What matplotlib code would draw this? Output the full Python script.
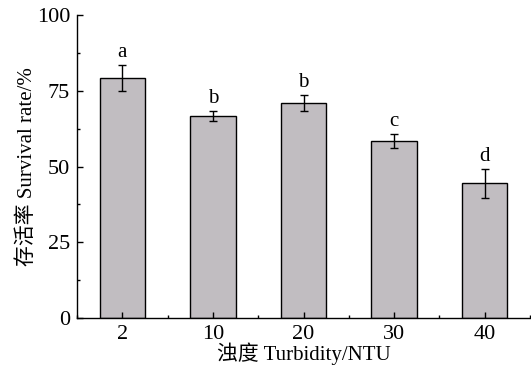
import matplotlib
matplotlib.use("Agg")
import matplotlib.pyplot as plt
from matplotlib.ticker import MultipleLocator

plt.rcParams['font.family'] = ['Liberation Serif', 'Noto Sans CJK SC']
plt.rcParams['mathtext.fontset'] = 'stix'

categories = ['2', '10', '20', '30', '40']
survival = [79.2, 66.6, 70.9, 58.3, 44.4]
errors = [4.2, 1.6, 2.6, 2.3, 4.8]
letters = ['a', 'b', 'b', 'c', 'd']

fig = plt.figure(figsize=(5.31, 3.72), dpi=100)
ax = fig.add_axes([77/531, 1 - 318/372, (530 - 77)/531, (318 - 15)/372])

x = range(len(categories))
ax.bar(x, survival, width=0.5, color='#c1bdc1', edgecolor='black', linewidth=1.0,
       yerr=errors, error_kw=dict(ecolor='black', elinewidth=1.0, capsize=3, capthick=1.0))

for xi, v, e, t in zip(x, survival, errors, letters):
    ax.text(xi, v + e + 1.0, t, ha='center', va='bottom', fontsize=15)

ax.set_xlim(-0.5, 4.5)
ax.set_ylim(0, 100)
ax.set_xticks(list(x))
ax.set_xticklabels(categories)
ax.set_xticks([i + 0.5 for i in range(-1, 5)], minor=True)
ax.yaxis.set_major_locator(MultipleLocator(25))
ax.yaxis.set_minor_locator(MultipleLocator(12.5))

for side in ['top', 'right']:
    ax.spines[side].set_visible(False)
for side in ['left', 'bottom']:
    ax.spines[side].set_linewidth(1.0)

ax.tick_params(axis='both', which='major', direction='in', length=4, width=1.0, labelsize=16, pad=5)
ax.tick_params(axis='both', which='minor', direction='in', length=2, width=1.0)

ax.set_xlabel('浊度 Turbidity/NTU', fontsize=15, labelpad=-1)
ax.set_ylabel('存活率 Survival rate/%', fontsize=15, labelpad=0)

fig.savefig('out.png', dpi=100)
